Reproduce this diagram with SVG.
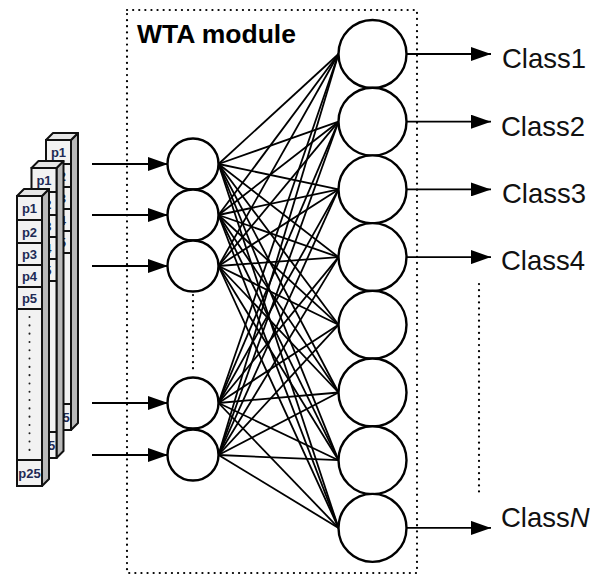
<svg xmlns="http://www.w3.org/2000/svg" width="590" height="576" viewBox="0 0 590 576">
<style>
.node{fill:#fff;stroke:#000;stroke-width:2.4}
.conn line{stroke:#000;stroke-width:1.8}
.arr{stroke:#000;stroke-width:2;marker-end:url(#ah)}
.dot{stroke:#000;stroke-width:2.2;stroke-dasharray:0.1 6;stroke-linecap:round;fill:none}
.lbl{font-family:"Liberation Sans",Arial,sans-serif;font-size:27.5px;fill:#111}
.title{font-family:"Liberation Sans",Arial,sans-serif;font-size:26.5px;font-weight:bold;fill:#000}
.face{fill:#f2f2f2;stroke:#111;stroke-width:2}
.side{fill:#b9b9b9;stroke:#111;stroke-width:2;stroke-linejoin:round}
.top{fill:#e6e6e6;stroke:#111;stroke-width:2;stroke-linejoin:round}
.cell{stroke:#111;stroke-width:2}
.p{font-family:"Liberation Sans",Arial,sans-serif;font-size:13px;font-weight:bold;fill:#1e2a55;text-anchor:middle}
</style>
<defs>
<marker id="ah" markerWidth="20" markerHeight="14" refX="20" refY="7" orient="auto" markerUnits="userSpaceOnUse">
<path d="M0,0 L20,7 L0,14 Z" fill="#000"/>
</marker>
<g id="col">
<polygon class="side" points="25,0 32,-7 32,283 25,290"/>
<polygon class="top" points="0,0 7,-7 32,-7 25,0"/>
<rect class="face" x="0" y="0" width="25" height="290"/>
<line class="cell" x1="0" y1="24" x2="25" y2="24"/>
<line class="cell" x1="0" y1="47" x2="25" y2="47"/>
<line class="cell" x1="0" y1="69" x2="25" y2="69"/>
<line class="cell" x1="0" y1="91" x2="25" y2="91"/>
<line class="cell" x1="0" y1="113" x2="25" y2="113"/>
<line class="cell" x1="0" y1="264" x2="25" y2="264"/>
<text class="p" x="12.5" y="17">p1</text>
<text class="p" x="12.5" y="40.5">p2</text>
<text class="p" x="12.5" y="63">p3</text>
<text class="p" x="12.5" y="85">p4</text>
<text class="p" x="12.5" y="107">p5</text>
<line x1="12.5" y1="121" x2="12.5" y2="260" stroke="#222" stroke-width="2" stroke-dasharray="0.1 8.2" stroke-linecap="round"/>
<text class="p" x="12.5" y="282">p25</text>
</g>
</defs>
<rect width="590" height="576" fill="#fff"/>

<g id="input-stacks">
<use href="#col" x="46" y="140"/>
<use href="#col" x="31.5" y="168"/>
<use href="#col" x="17" y="196"/>
</g>

<g id="wta-box">
<rect x="127" y="10" width="290" height="563" class="dot"/>
<text class="title" x="137" y="43">WTA module</text>
</g>

<g id="connectors" class="conn">
<line x1="218.5" y1="164" x2="338.5" y2="54"/><line x1="218.5" y1="164" x2="338.5" y2="121.7"/><line x1="218.5" y1="164" x2="338.5" y2="189.4"/><line x1="218.5" y1="164" x2="338.5" y2="257.1"/><line x1="218.5" y1="164" x2="338.5" y2="324.8"/><line x1="218.5" y1="164" x2="338.5" y2="392.5"/><line x1="218.5" y1="164" x2="338.5" y2="460.2"/><line x1="218.5" y1="164" x2="338.5" y2="527.9"/>
<line x1="218.5" y1="215" x2="338.5" y2="54"/><line x1="218.5" y1="215" x2="338.5" y2="121.7"/><line x1="218.5" y1="215" x2="338.5" y2="189.4"/><line x1="218.5" y1="215" x2="338.5" y2="257.1"/><line x1="218.5" y1="215" x2="338.5" y2="324.8"/><line x1="218.5" y1="215" x2="338.5" y2="392.5"/><line x1="218.5" y1="215" x2="338.5" y2="460.2"/><line x1="218.5" y1="215" x2="338.5" y2="527.9"/>
<line x1="218.5" y1="266" x2="338.5" y2="54"/><line x1="218.5" y1="266" x2="338.5" y2="121.7"/><line x1="218.5" y1="266" x2="338.5" y2="189.4"/><line x1="218.5" y1="266" x2="338.5" y2="257.1"/><line x1="218.5" y1="266" x2="338.5" y2="324.8"/><line x1="218.5" y1="266" x2="338.5" y2="392.5"/><line x1="218.5" y1="266" x2="338.5" y2="460.2"/><line x1="218.5" y1="266" x2="338.5" y2="527.9"/>
<line x1="218.5" y1="403" x2="338.5" y2="54"/><line x1="218.5" y1="403" x2="338.5" y2="121.7"/><line x1="218.5" y1="403" x2="338.5" y2="189.4"/><line x1="218.5" y1="403" x2="338.5" y2="257.1"/><line x1="218.5" y1="403" x2="338.5" y2="324.8"/><line x1="218.5" y1="403" x2="338.5" y2="392.5"/><line x1="218.5" y1="403" x2="338.5" y2="460.2"/><line x1="218.5" y1="403" x2="338.5" y2="527.9"/>
<line x1="218.5" y1="455" x2="338.5" y2="54"/><line x1="218.5" y1="455" x2="338.5" y2="121.7"/><line x1="218.5" y1="455" x2="338.5" y2="189.4"/><line x1="218.5" y1="455" x2="338.5" y2="257.1"/><line x1="218.5" y1="455" x2="338.5" y2="324.8"/><line x1="218.5" y1="455" x2="338.5" y2="392.5"/><line x1="218.5" y1="455" x2="338.5" y2="460.2"/><line x1="218.5" y1="455" x2="338.5" y2="527.9"/>
<line class="arr" x1="92" y1="164" x2="168" y2="164"/>
<line class="arr" x1="92" y1="215" x2="168" y2="215"/>
<line class="arr" x1="92" y1="266" x2="168" y2="266"/>
<line class="arr" x1="92" y1="403" x2="168" y2="403"/>
<line class="arr" x1="92" y1="455" x2="168" y2="455"/>
<line class="arr" x1="406" y1="54" x2="491" y2="54"/>
<line class="arr" x1="406" y1="121.7" x2="491" y2="121.7"/>
<line class="arr" x1="406" y1="189.4" x2="491" y2="189.4"/>
<line class="arr" x1="406" y1="257.1" x2="491" y2="257.1"/>
<line class="arr" x1="406" y1="527.9" x2="491" y2="527.9"/>
</g>

<g id="input-nodes">
<circle id="in1" class="node" cx="193" cy="164" r="25.5"/>
<circle id="in2" class="node" cx="193" cy="215" r="25.5"/>
<circle id="in3" class="node" cx="193" cy="266" r="25.5"/>
<circle id="in4" class="node" cx="193" cy="403" r="25.5"/>
<circle id="in5" class="node" cx="193" cy="455" r="25.5"/>
<line class="dot" x1="193" y1="295" x2="193" y2="372"/>
</g>

<g id="output-nodes">
<circle id="out1" class="node" cx="372.5" cy="54" r="34"/>
<circle id="out2" class="node" cx="372.5" cy="121.7" r="34"/>
<circle id="out3" class="node" cx="372.5" cy="189.4" r="34"/>
<circle id="out4" class="node" cx="372.5" cy="257.1" r="34"/>
<circle id="out5" class="node" cx="372.5" cy="324.8" r="34"/>
<circle id="out6" class="node" cx="372.5" cy="392.5" r="34"/>
<circle id="out7" class="node" cx="372.5" cy="460.2" r="34"/>
<circle id="out8" class="node" cx="372.5" cy="527.9" r="34"/>
</g>

<g id="labels">
<text class="lbl" x="502" y="68">Class1</text>
<text class="lbl" x="501" y="136">Class2</text>
<text class="lbl" x="502" y="203">Class3</text>
<text class="lbl" x="501" y="270">Class4</text>
<text class="lbl" x="501" y="527">Class<tspan font-style="italic">N</tspan></text>
<line class="dot" x1="479" y1="284" x2="479" y2="497"/>
</g>
</svg>
